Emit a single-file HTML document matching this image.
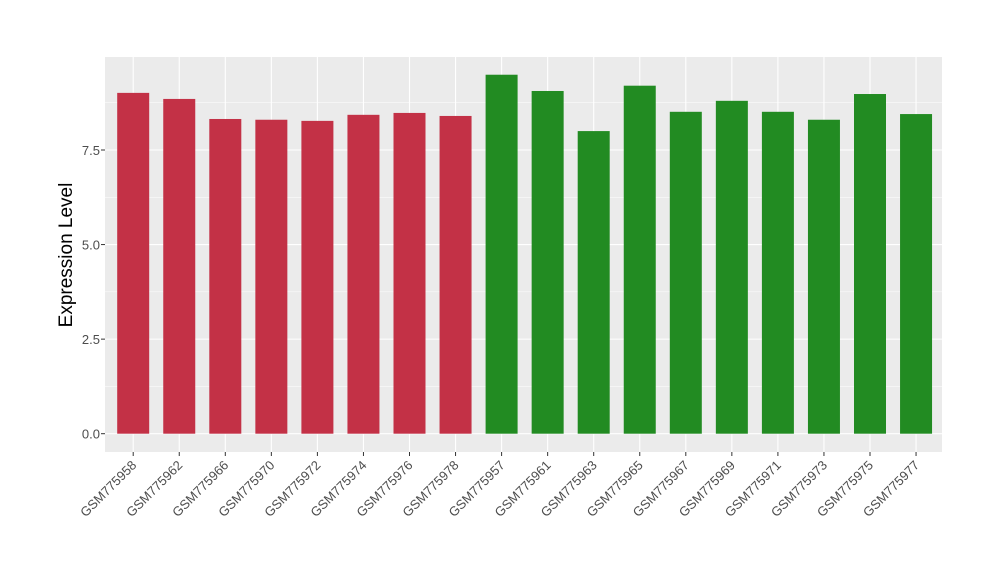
<!DOCTYPE html>
<html><head><meta charset="utf-8"><style>
body{margin:0;background:#fff;font-family:"Liberation Sans",sans-serif;}
</style></head><body>
<svg id="chart" width="1000" height="580" xmlns="http://www.w3.org/2000/svg" font-family="Liberation Sans, sans-serif">
<rect x="105" y="57" width="837" height="395" fill="#ebebeb"/>
<g id="grid"></g><g id="bars"></g><g id="axes"></g>
<text transform="translate(72,255) rotate(-90)" text-anchor="middle" font-size="19" fill="#000">Expression Level</text>
</svg>
<script>
const categories=["GSM775958","GSM775962","GSM775966","GSM775970","GSM775972","GSM775974","GSM775976","GSM775978","GSM775957","GSM775961","GSM775963","GSM775965","GSM775967","GSM775969","GSM775971","GSM775973","GSM775975","GSM775977"];
const values=[9.01,8.85,8.32,8.30,8.27,8.43,8.48,8.40,9.49,9.06,8.00,9.20,8.51,8.80,8.51,8.30,8.98,8.45];
const groups=["a","a","a","a","a","a","a","a","b","b","b","b","b","b","b","b","b","b"];
const yTicks=[0,2.5,5,7.5];
const yTickLabels=["0.0","2.5","5.0","7.5"];
const colors={a:"#c33146",b:"#228b22"};
const NS="http://www.w3.org/2000/svg";
const y=v=>433.7-v*(433.7-150)/7.5;
const x=i=>133.2+i*46.05;
const bw=32;
function mk(t,a,p){const e=document.createElementNS(NS,t);for(const k in a)e.setAttribute(k,a[k]);p.appendChild(e);return e;}
const grid=document.getElementById('grid'),bars=document.getElementById('bars'),axes=document.getElementById('axes');
for(let k=0;k<yTicks.length;k++){
  const ln=mk('line',{x1:105,x2:942,y1:y(yTicks[k]),y2:y(yTicks[k]),stroke:"#fff","stroke-width":1.1},grid);
  
  if(k<yTicks.length-1){const m=(yTicks[k]+yTicks[k+1])/2;
    const l2=mk('line',{x1:105,x2:942,y1:y(m),y2:y(m),stroke:"#fff","stroke-width":0.5},grid);
    }
  const t=mk('text',{x:100,y:y(yTicks[k])+5,"text-anchor":"end","font-size":13,fill:"#4d4d4d"},axes);
  t.textContent=yTickLabels[k];
  
  const tk=mk('line',{x1:101,x2:105,y1:y(yTicks[k]),y2:y(yTicks[k]),stroke:"#333"},axes);
  
}
{const m=(yTicks[yTicks.length-1]+10)/2;const l2=mk('line',{x1:105,x2:942,y1:y(m),y2:y(m),stroke:"#fff","stroke-width":0.5},grid);
}
categories.forEach((c,i)=>{
  const g=mk('line',{x1:x(i),x2:x(i),y1:57,y2:452,stroke:"#fff","stroke-width":1.1},grid);
  
  const r=mk('rect',{x:x(i)-bw/2,y:y(values[i]),width:bw,height:y(0)-y(values[i]),fill:colors[groups[i]]},bars);
  
  const tk=mk('line',{x1:x(i),x2:x(i),y1:452,y2:456,stroke:"#333"},axes);
  
  const t=mk('text',{x:x(i)+4,y:466,"text-anchor":"end","font-size":13,fill:"#4d4d4d",transform:`rotate(-45 ${x(i)+4} 466)`},axes);
  t.textContent=c;
  
});
</script>
</body></html>
